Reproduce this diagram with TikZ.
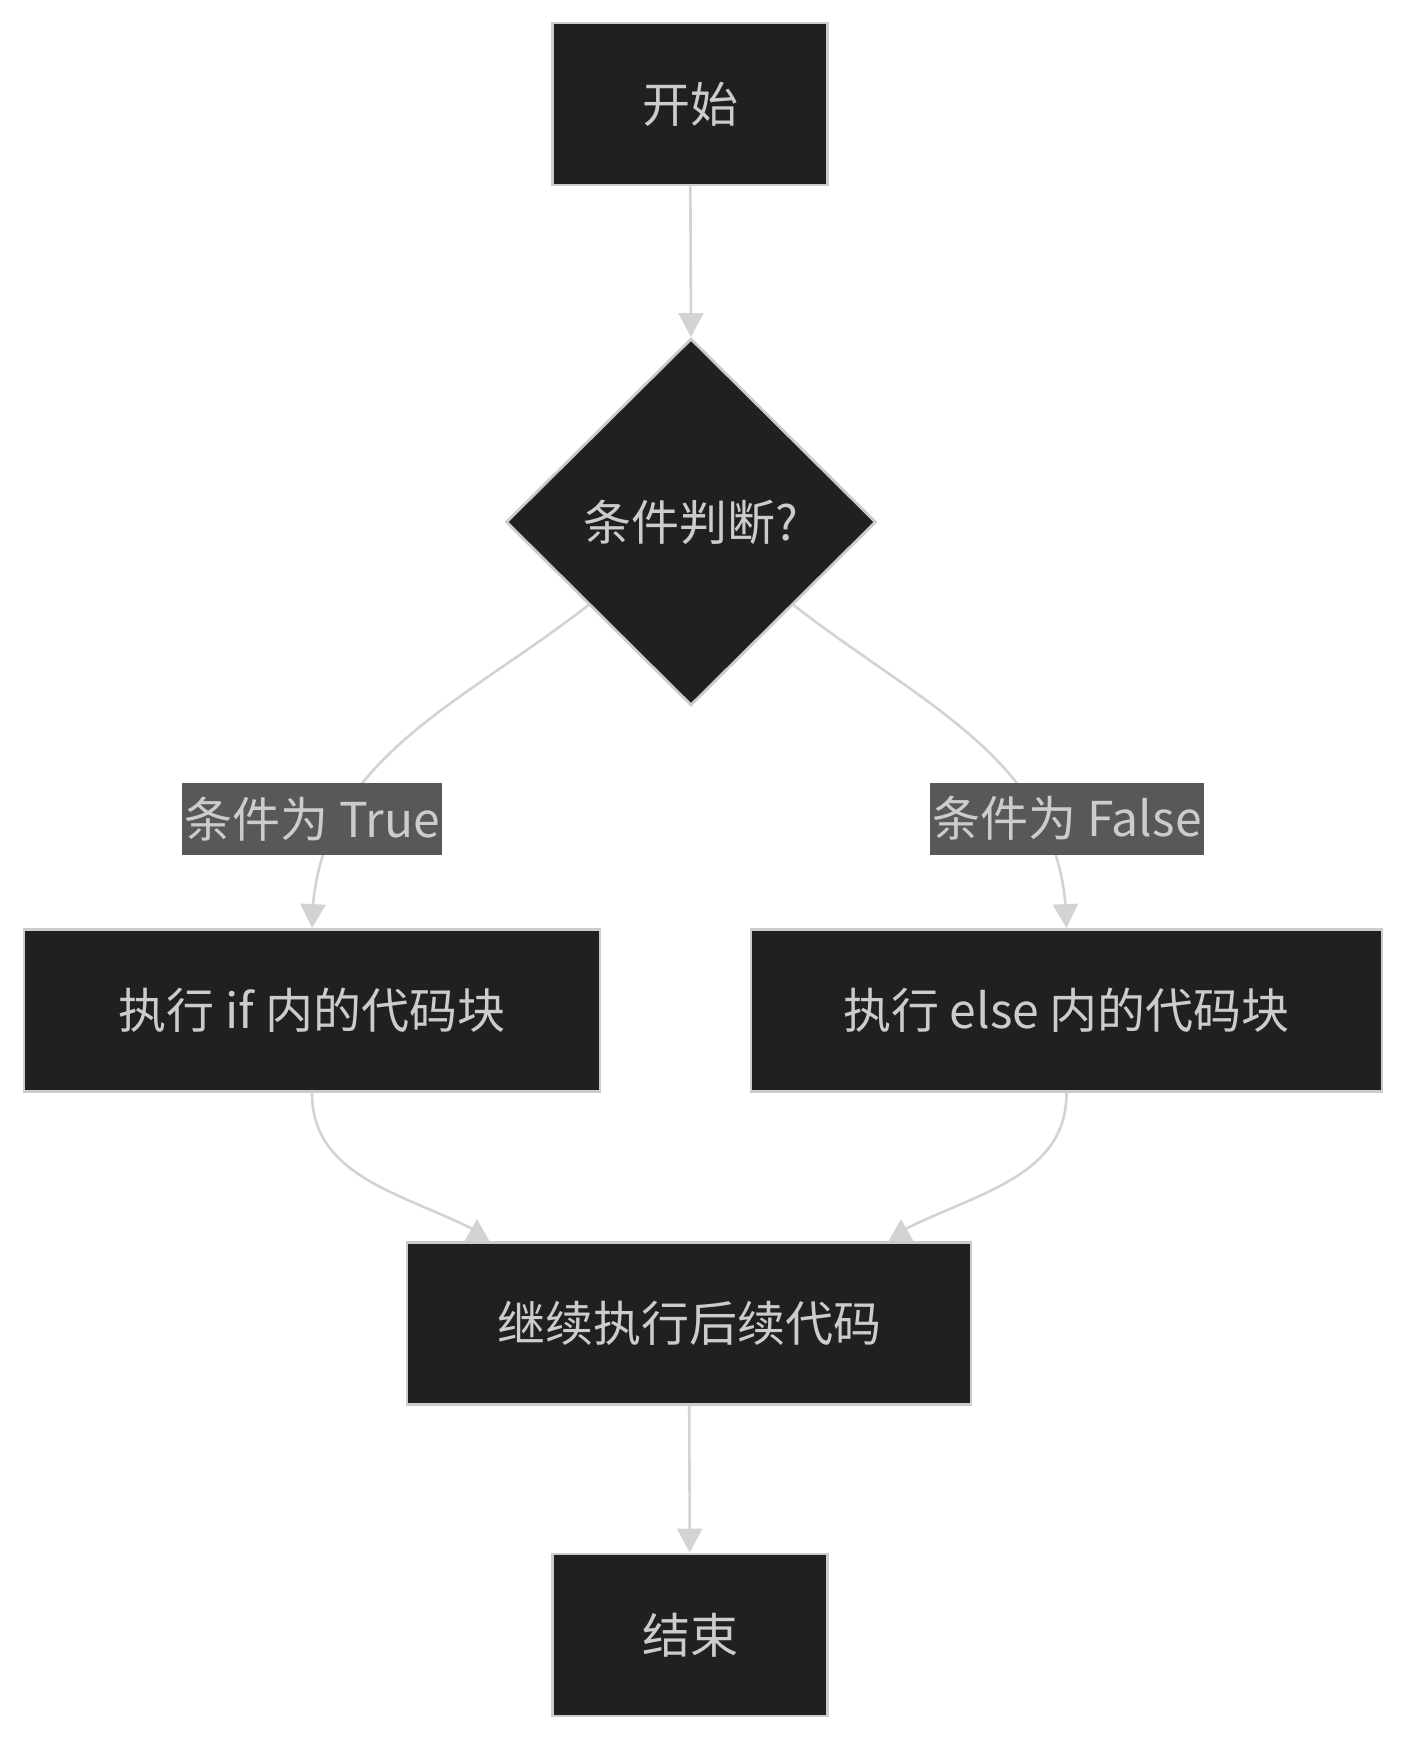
\documentclass[tikz,border=0pt]{standalone}
\usepackage{fontspec}
\setmainfont{Noto Sans CJK SC}
\usetikzlibrary{arrows.meta, bending, positioning, shapes.geometric, backgrounds}
\tikzset{x=0.5pt,y=0.5pt, >={Triangle[length=12pt,width=12.5pt]}}

\definecolor{nodefill}{HTML}{1F2020}
\definecolor{nodeline}{HTML}{CCCCCC}
\definecolor{flowline}{HTML}{D3D3D3}
\definecolor{labelfill}{HTML}{585858}

\begin{document}
\begin{tikzpicture}
% Style
[
    line cap=round,
    process box/.style={rectangle, draw=nodeline, fill=nodefill, line width=1.4pt,
        text=nodeline, font=\fontsize{24}{29}\selectfont, minimum height=81pt, inner sep=0pt},
    decision box/.style={diamond, draw=nodeline, fill=nodefill, line width=1.4pt,
        text=nodeline, font=\fontsize{24}{29}\selectfont,
        minimum width=185pt, minimum height=183.5pt, inner sep=0pt},
    edge label/.style={rectangle, fill=labelfill, text=nodeline,
        font=\fontsize{24}{29}\selectfont, minimum height=36pt, inner xsep=1pt, inner ysep=0pt},
    flow line/.style={draw=flowline, line width=1.3pt},
    flow tip/.style={fill=flowline}
]

%=================================== Start ===================================
{
    \useasboundingbox (0, 0) rectangle (1405, -1739);

    % Define: Nodes
    \node[process box, minimum width=137.5pt] (start)   at (690, -104)     {开始};
    \node[decision box]                       (cond)    at (691, -522)     {条件判断?};
    \node[process box, minimum width=288pt]   (ifblk)   at (312, -1010.5)  {执行 if 内的代码块};
    \node[process box, minimum width=315.5pt] (elseblk) at (1066.5, -1010.5) {执行 else 内的代码块};
    \node[process box, minimum width=282pt]   (merge)   at (689, -1323.5)  {继续执行后续代码};
    \node[process box, minimum width=137.5pt] (finish)  at (690, -1635)    {结束};

    % Define: Tips on merge
    \coordinate (tipL) at ([xshift=-106pt]merge.north);
    \coordinate (tipR) at ([xshift=106pt]merge.north);

    % Draw: Edges
    \begin{scope}[on background layer]
        \draw[flow line, ->] (start) -- (cond.north);
        \draw[flow line, ->] (cond.-141) to[out=-142, in=90] (ifblk.north);
        \draw[flow line, ->] (cond.-39) to[out=-38, in=90] (elseblk.north);
        \draw[flow line] (ifblk.south) to[out=-90, in=153] ([yshift=5pt]tipL);
        \draw[flow line] (elseblk.south) to[out=-90, in=27] ([yshift=5pt]tipR);
        \foreach \t in {tipL, tipR} {
            \fill[flow tip] ([yshift=11pt]\t) -- ([xshift=-6.25pt]\t) -- ([xshift=6.25pt]\t) -- cycle;
        }
        \draw[flow line, ->] (merge) -- (finish);
    \end{scope}

    % Draw: Labels
    \node[edge label] (ltrue)  at (312, -819)    {条件为 True};
    \node[edge label] (lfalse) at (1067, -818.5) {条件为 False};
}
%==================================== END ====================================

\end{tikzpicture}
\end{document}
